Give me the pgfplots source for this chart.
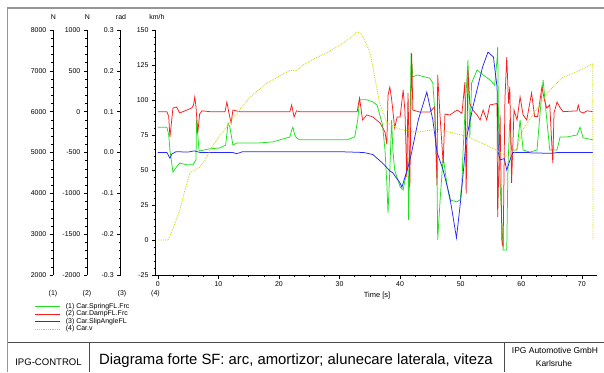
\documentclass[border=0pt]{standalone}
\usepackage{fontspec}
\setmainfont{Liberation Sans}
\usepackage{pgfplots}
\pgfplotsset{compat=1.18}
\definecolor{cgreen}{RGB}{30,225,30}
\definecolor{cred}{RGB}{250,30,30}
\definecolor{cblue}{RGB}{40,40,250}
\definecolor{cyel}{RGB}{205,215,0}
\definecolor{framec}{RGB}{150,150,150}
\pgfplotsset{
  tickfont/.style={font=\fontsize{7}{8}\selectfont},
  base/.style={scale only axis, width=441.5bp, height=245bp, xmin=-0.38, xmax=72.5,
    at={(155.5bp,97bp)}, anchor=south west},
  side/.style={scale only axis, width=20bp, height=245bp, xmin=0, xmax=1,
    axis x line=none, axis y line*=left, anchor=south west,
    tick align=outside, major tick length=3.5bp, minor tick length=2bp,
    minor y tick num=4, tick label style={tickfont},
    /pgf/number format/assume math mode=true, /pgf/number format/1000 sep={},
    axis line style={line width=0.6bp}, every tick/.style={black, line width=0.5bp}},
}
\begin{document}
\begin{tikzpicture}[x=1bp,y=1bp]
\useasboundingbox (0,0) rectangle (604,372);
\fill[white] (0,0) rectangle (604,372);
\draw[framec, line width=1.8bp] (7.5,0) -- (7.5,364) -- (604,364);
\draw[black!70, line width=0.7bp] (7.5,29.3) -- (604,29.3);
\draw[black!70, line width=0.7bp] (89,29.3) -- (89,0);
\draw[black!70, line width=0.7bp] (504,29.3) -- (504,0);
\node[font=\fontsize{9.6}{11}\selectfont] at (48.5,9.5) {IPG-CONTROL};
\node[font=\fontsize{14.9}{17}\selectfont] at (296,11.3) {Diagrama forte SF: arc, amortizor; alunecare laterala, viteza};
\node[font=\fontsize{8.5}{10}\selectfont] at (555,21.3) {IPG Automotive GmbH};
\node[font=\fontsize{8.5}{10}\selectfont] at (554,9) {Karlsruhe};
% unit labels
\node[font=\fontsize{7}{8}\selectfont] at (53.3,355) {N};
\node[font=\fontsize{7}{8}\selectfont] at (87.3,355) {N};
\node[font=\fontsize{7}{8}\selectfont] at (121,355) {rad};
\node[font=\fontsize{7}{8}\selectfont] at (157,355) {km/h};
\node[font=\fontsize{7}{8}\selectfont] at (53,78.7) {(1)};
\node[font=\fontsize{7}{8}\selectfont] at (87,78.7) {(2)};
\node[font=\fontsize{7}{8}\selectfont] at (122,78.7) {(3)};
\node[font=\fontsize{7}{8}\selectfont] at (155.5,78.7) {(4)};
\node[font=\fontsize{7.5}{8}\selectfont] at (377,76.3) {Time [s]};

% side axes
\begin{axis}[side, at={(53.3bp,97bp)}, ymin=2000, ymax=8000, ytick={2000,3000,...,8000}]
\addplot[draw=none] coordinates {(0.5,5000)};
\end{axis}
\begin{axis}[side, at={(87.3bp,97bp)}, ymin=-2000, ymax=1000, ytick={-2000,-1500,...,1000}]
\addplot[draw=none] coordinates {(0.5,0)};
\end{axis}
\begin{axis}[side, at={(120.7bp,97bp)}, ymin=-0.3, ymax=0.3, ytick={-0.3,-0.2,...,0.31},
  yticklabel style={/pgf/number format/.cd, fixed, fixed zerofill, precision=1}]
\addplot[draw=none] coordinates {(0.5,0)};
\end{axis}

% (1) spring force, N
\begin{axis}[base, hide axis, ymin=2000, ymax=8000]
\addplot[cgreen, line width=0.75bp] coordinates {
(0,5620) (1.5,5620) (1.8,5430) (2.0,5060) (2.5,4520) (3.1,4650) (3.6,4740) (4.8,4700)
(5.8,4700) (6.3,4820) (6.4,5800) (6.8,5060) (6.9,5040) (8.6,5090) (10.2,5110) (11.2,5180)
(11.6,5720) (11.9,5620) (12.4,5180) (13.0,5230) (16.3,5230) (19.0,5260) (21.8,5380)
(22.1,5550) (22.3,5620) (22.6,5430) (22.9,5360) (23.4,5310) (31.2,5310) (32.5,5380)
(33.0,5800) (33.3,6290) (34.5,6290) (35.5,6240) (36.2,6160) (37.1,5670) (37.5,5060)
(37.8,4250) (38.0,3520) (38.3,4570) (38.6,5800) (38.8,5060) (39.1,4570) (40.0,4160)
(40.5,4080) (41.1,4570) (41.3,4890) (41.4,3350) (41.6,5060) (41.8,7440) (42.1,6850)
(42.8,6900) (44.9,6820) (45.4,6700) (45.7,6040) (46.1,4250) (46.2,2860) (46.6,3840)
(47.1,4890) (47.7,4250) (48.2,3840) (49.4,3790) (49.9,3840) (50.2,4250) (50.4,5060)
(50.7,5970) (51.2,7270) (51.5,5380) (51.8,6700) (52.7,7020) (53.7,6900) (54.8,6780)
(55.6,6650) (56.0,7270) (56.1,7580) (56.3,5060) (56.5,4250) (57.0,2610) (57.6,2610)
(57.8,4650) (58.1,5800) (58.4,5060) (59.3,5060) (59.8,5800) (60.3,5060) (61.4,5010)
(62.6,5060) (63.1,5970) (63.6,6780) (64.1,5970) (64.7,5060) (65.9,5060) (66.4,5380)
(67.5,5380) (69.2,5430) (69.7,5620) (70.2,5360) (71.8,5310)};
\end{axis}

% (2) damper force, N
\begin{axis}[base, hide axis, ymin=-2000, ymax=1000]
\addplot[cred, line width=0.75bp] coordinates {
(0,0) (1.5,0) (1.8,-60) (2.0,-310) (2.3,-100) (2.5,45) (3.1,57) (3.6,-16) (4.8,20)
(5.6,45) (5.9,82) (6.1,180) (6.3,60) (6.6,-261) (6.9,-30) (7.3,10) (8.6,0) (11.1,0)
(11.4,118) (11.7,0) (12.1,-139) (12.4,20) (13.5,0) (21.8,0) (22.1,82) (22.5,-65)
(22.9,10) (23.4,0) (32.9,0) (33.3,167) (33.8,-102) (34.5,-40) (35.5,-65) (36.7,-139)
(37.5,-250) (37.8,-400) (38.0,200) (38.3,302) (38.6,150) (39.1,-200) (39.5,-65)
(40.0,-65) (40.5,265) (40.8,0) (41.1,-800) (41.3,229) (41.6,-922) (41.9,718) (42.1,20)
(43.2,-4) (44.9,-4) (45.7,57) (46.1,-900) (46.2,449) (46.6,-65) (47.1,-629) (47.4,-30)
(48.2,-40) (49.4,20) (50.2,-20) (50.7,363) (50.9,-1000) (51.2,510) (51.5,100) (52.0,20)
(52.7,-40) (53.2,-102) (53.7,20) (54.3,-102) (54.8,82) (56.0,100) (56.1,-1290)
(56.5,-40) (56.8,-1600) (57.0,-1650) (57.3,150) (57.6,669) (57.9,100) (58.1,302)
(58.4,-873) (58.8,20) (59.3,-102) (59.8,180) (60.3,-40) (60.9,-102) (61.7,229)
(62.2,-60) (62.7,-60) (63.4,302) (63.8,150) (64.2,45) (64.7,82) (65.2,-629) (65.4,-16)
(65.9,118) (66.4,50) (66.9,0) (69.2,10) (69.4,82) (69.7,0) (70.2,-16) (70.9,10) (71.8,0)};
\end{axis}

% (3) slip angle, rad
\begin{axis}[base, hide axis, ymin=-0.3, ymax=0.3]
\addplot[cblue, line width=0.75bp] coordinates {
(0,0) (1.5,0) (2.0,-0.014) (2.3,-0.004) (3,0.002) (5,0.001) (6.0,0.004) (7,0) (12.4,0)
(13,-0.003) (14,0.002) (30,0.002) (34,0) (35.5,-0.005) (37.1,-0.026) (38.3,-0.045)
(38.8,-0.05) (40.0,-0.075) (40.3,-0.085) (40.8,-0.06) (41.3,-0.036) (41.9,0) (43.0,0.08)
(44.4,0.148) (45.4,0.08) (46.1,0) (47.1,-0.043) (48.2,-0.109) (49.3,-0.209) (50.0,-0.116)
(50.5,-0.036) (50.9,0.031) (52.0,0.111) (53.6,0.209) (54.5,0.246) (55.4,0.234) (56.0,0.16)
(56.2,0) (56.5,-0.018) (57.2,-0.015) (57.6,-0.043) (58.1,-0.02) (58.6,0) (61.2,0)
(61.7,-0.001) (65,-0.002) (66,0) (71.8,0)};
\end{axis}

% (4) vehicle speed, km/h  (main axis)
\begin{axis}[base, ymin=-25, ymax=150, axis lines*=left,
  xtick={0,10,...,70}, ytick={-25,0,...,150}, minor x tick num=3, minor y tick num=4,
  tick align=outside, major tick length=3.5bp, minor tick length=2bp,
  tick label style={tickfont}, /pgf/number format/assume math mode=true,
  axis line style={line width=0.6bp}, every tick/.style={black, line width=0.5bp},
  legend cell align=left,
  legend style={at={(-0.2729,-0.1139)}, anchor=north west, draw=none, fill=none,
    inner sep=0pt, outer sep=0pt, row sep=0pt, column sep=5bp,
    font=\fontsize{7}{7.5}\selectfont,
    nodes={inner sep=0pt, text height=5.2bp, text depth=2.3bp}},
  legend image code/.code={\draw[#1] (0bp,0bp) -- (25bp,0bp);}]
\addlegendimage{cgreen, line width=0.75bp}
\addlegendimage{cred, line width=0.75bp}
\addlegendimage{cblue, line width=0.75bp}
\addplot[cyel, densely dotted, line width=0.8bp] coordinates {
(0,0) (1.7,0) (2.5,8) (3.6,21) (4.5,36) (5.3,48) (6.9,52) (7.8,57) (8.6,64) (10,73)
(11.9,84) (13.5,93) (15.2,102) (18,112) (20,117) (21.8,121) (22.9,121) (24,125) (25.6,129)
(28,134) (30,139) (32,145) (32.8,148.6) (33.3,148) (34,144) (35,134) (35.5,124) (36.6,98)
(37.8,84) (40,79) (42.7,77) (46,79) (48.2,77) (51,74) (53.6,69) (56,64) (57.5,60)
(58.6,60) (59.5,68) (60.3,79) (62.5,93) (64.7,107) (66.8,116) (69.6,121) (71.8,126) (71.85,0)};
\legend{(1) Car.SpringFL.Frc, (2) Car.DampFL.Frc, (3) Car.SlipAngleFL, (4) Car.v}
\end{axis}
\end{tikzpicture}
\end{document}
